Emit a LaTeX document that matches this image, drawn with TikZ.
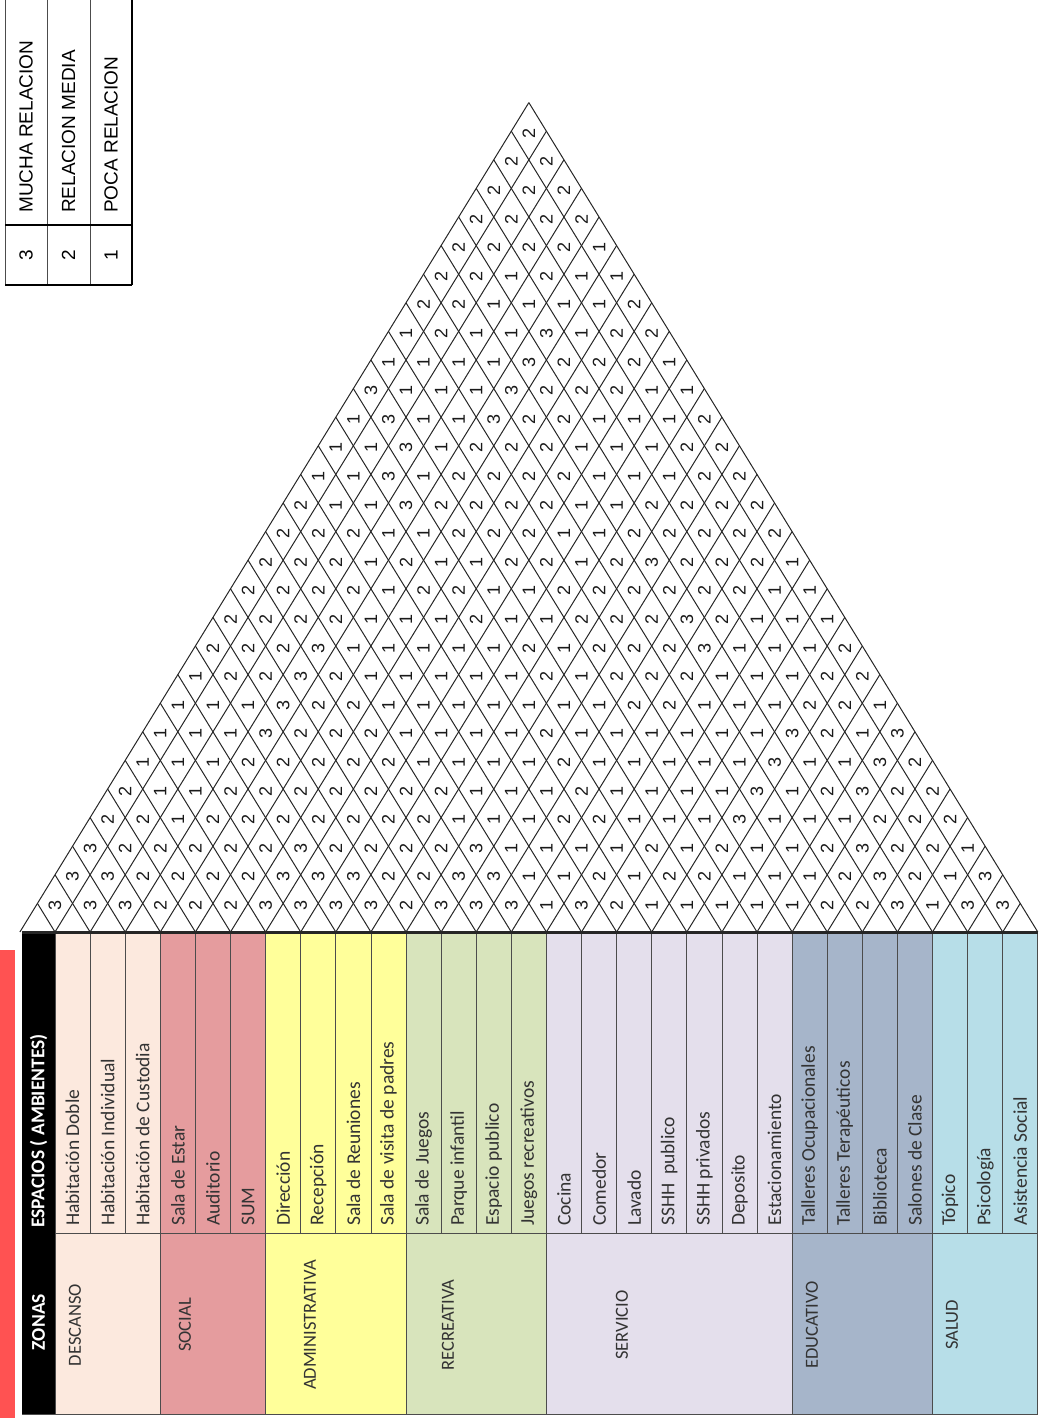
\documentclass[tikz,border=0pt]{standalone}
\usepackage{fontspec}
\setmainfont{Carlito}
\newfontfamily\legfont{Liberation Sans}
\usetikzlibrary{positioning}

\definecolor{descanso}{HTML}{FCE9DE}
\definecolor{social}{HTML}{E59C9E}
\definecolor{admin}{HTML}{FFFF9A}
\definecolor{recrea}{HTML}{D8E4BC}
\definecolor{servicio}{HTML}{E4DFEC}
\definecolor{educa}{HTML}{A6B5CA}
\definecolor{salud}{HTML}{B7DEE8}
\definecolor{redbar}{HTML}{FF5252}

\begin{document}
\begin{tikzpicture}[
  x=1pt, y=-1pt,
  num/.style={rotate=90,inner sep=0pt,text=black!90,font=\legfont\fontsize{18}{18}\selectfont},
  spacelab/.style={rotate=90,anchor=west,inner sep=0pt,text=black!80,font=\fontsize{19.5}{20}\selectfont},
  zonelab/.style={rotate=90,inner sep=0pt,text=black!80,font=\fontsize{18.5}{19}\selectfont},
  hdr/.style={rotate=90,inner sep=0pt,text=white,font=\bfseries\fontsize{19.5}{20}\selectfont},
  leglab/.style={rotate=90,inner sep=0pt,font=\legfont\fontsize{19}{20}\selectfont},
  gridline/.style={draw=black!85,line width=1pt},
  cellline/.style={draw=black!70,line width=0.8pt}
]
\useasboundingbox (0,0) rectangle (1042,1418);

% legend
\draw[cellline] (5,0) -- (5,285) (47,0) -- (47,285) (90,0) -- (90,285);
\draw[black,line width=1.2pt] (132,0) -- (132,285);
\draw[black,line width=1.2pt] (5,225) -- (132,225) (5,285) -- (132,285);
\foreach \n/\t [count=\k from 0] in {3/MUCHA RELACION,2/RELACION MEDIA,1/POCA RELACION} {
  \node[leglab] (legn\k) at ({26+\k*42.5},255) {\n};
  \node[leglab,anchor=west] (legt\k) at ({26+\k*42.5},213) {\t};
}

% table
\fill[redbar] (0,950) rectangle (15,1418);
\fill[black] (22,932) rectangle (55,1415);
\node[hdr] (zonas) at (38.5,1322) {ZONAS};
\node[hdr,anchor=west] (espacios) at (38.5,1228) {ESPACIOS ( AMBIENTES)};

\foreach \z/\first/\n/\col/\lx in {DESCANSO/0/3/descanso/75,SOCIAL/3/3/social/185,
    ADMINISTRATIVA/6/4/admin/310,RECREATIVA/10/4/recrea/448,SERVICIO/14/7/servicio/622,
    EDUCATIVO/21/4/educa/812,SALUD/25/3/salud/952} {
  \fill[\col] ({55+\first*35.1},932) rectangle ({55+(\first+\n)*35.1},1415);
  \node[zonelab] (z\first) at (\lx,1325) {\z};
}

\foreach \s [count=\k] in {Habitación Doble,Habitación Individual,Habitación de Custodia,
    Sala de Estar,Auditorio,SUM,Dirección,Recepción,Sala de Reuniones,Sala de visita de padres,
    Sala de Juegos,Parque infantil,Espacio publico,Juegos recreativos,Cocina,Comedor,Lavado,
    SSHH~~publico,SSHH privados,Deposito,Estacionamiento,Talleres Ocupacionales,
    Talleres Terapéuticos,Biblioteca,Salones de Clase,Tópico,Psicología,Asistencia Social}
  \node[spacelab] (s\k) at ({55+(\k-0.5)*35.1},1226) {\s};

\foreach \k in {1,...,27}
  \draw[cellline] ({55+\k*35.1},932) -- ({55+\k*35.1},1233);
\foreach \k in {0,3,6,10,14,21,25,28}
  \draw[cellline] ({55+\k*35.1},932) -- ({55+\k*35.1},1415);
\draw[cellline] (55,1233) -- (1038,1233);
\draw[cellline] (22,1414) -- (1038,1414);

% relation matrix
\foreach \k in {0,...,28}
  \draw[gridline] ({19.9+\k*35.1},932) -- ({19.9+\k*35.1+(29-\k)*17.55},{932-(29-\k)*28.6});
\foreach \k in {1,...,29}
  \draw[gridline] ({19.9+\k*35.1},932) -- ({19.9+\k*35.1-\k*17.55},{932-\k*28.6});
\draw[black!85,line width=3pt] (22,932) -- (1038,932);

\foreach \r/\vals in {
  1/{3,3,3,2,2,2,3,3,3,3,2,3,3,3,1,3,2,1,1,1,1,1,2,2,3,1,3,3},
  2/{3,3,2,2,2,2,3,3,3,2,2,3,3,1,1,2,1,2,2,1,1,1,2,3,2,1,3},
  3/{3,2,2,2,2,2,3,2,2,2,2,3,1,1,1,1,2,1,2,1,1,2,3,2,2,1},
  4/{2,2,1,2,2,2,2,2,2,2,1,1,1,2,2,1,1,1,3,1,1,1,2,2,2},
  5/{2,1,1,2,2,2,2,2,2,2,1,1,1,2,1,1,1,1,3,1,2,3,2,2},
  6/{1,1,1,2,2,2,2,2,1,1,1,1,2,1,1,1,1,1,3,1,1,3,2},
  7/{1,1,1,3,2,2,2,1,1,1,1,2,1,1,1,1,1,1,3,2,1,3},
  8/{1,1,1,3,2,2,1,1,1,1,1,1,1,2,2,1,1,1,2,2,1},
  9/{1,2,2,3,2,1,1,1,1,1,2,1,2,2,2,1,1,1,2,2},
  10/{2,2,2,3,1,1,1,1,1,2,1,2,2,2,3,1,1,1,2},
  11/{2,2,2,2,1,1,1,2,1,1,2,2,2,3,2,1,1,1},
  12/{2,2,2,2,1,2,2,1,1,2,2,2,2,2,2,1,1},
  13/{2,2,2,1,2,1,1,2,2,1,2,3,2,2,2,1},
  14/{2,2,2,1,1,2,2,2,1,1,2,2,2,2,2},
  15/{2,1,1,3,2,2,2,2,1,1,2,2,2,2},
  16/{1,1,3,1,2,2,2,2,1,1,1,2,2},
  17/{1,1,3,1,2,2,2,1,1,1,2,2},
  18/{1,3,1,1,3,2,2,1,1,1,2},
  19/{3,1,1,1,3,2,2,2,1,1},
  20/{1,1,1,1,3,2,2,2,1},
  21/{1,2,1,1,3,1,2,2},
  22/{2,2,1,1,1,1,2},
  23/{2,2,1,2,1,1},
  24/{2,2,2,2,1},
  25/{2,2,2,2},
  26/{2,2,2},
  27/{2,2},
  28/{2}} {
  \foreach \v [count=\m from 0] in \vals
    \node[num] (c\r-\m) at ({55+(\r-1)*17.55+\m*35.1},{934-\r*28.6}) {\v};
}
\end{tikzpicture}
\end{document}
